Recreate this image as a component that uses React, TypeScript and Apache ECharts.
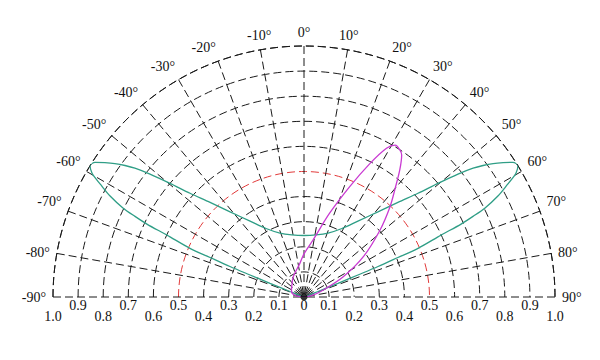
import React, { useEffect, useRef } from "react";
import * as echarts from "echarts";

// Angular ticks (degrees) and radial ticks (relative intensity)
const angleTicks = [-90, -80, -70, -60, -50, -40, -30, -20, -10, 0, 10, 20, 30, 40, 50, 60, 70, 80, 90];
const radiusTicks = [0, 0.1, 0.2, 0.3, 0.4, 0.5, 0.6, 0.7, 0.8, 0.9, 1.0];
const referenceCircle = 0.5;

// Teal batwing curve: angle (deg) and relative intensity
const tealAngles = [
  -68.6, -68.5, -68.1, -67.8, -67.6, -67.2, -66.9, -65.7, -65.1, -64.5, -63.8, -62.5, -61.0, -60.4, -59.7, -58.5,
  -57.2, -56.0, -54.8, -53.7, -52.7, -51.4, -49.7, -47.7, -44.8, -41.0, -35.4, -29.0, -20.6, -11.0,
  0,
  11.0, 20.6, 29.0, 35.4, 41.0, 44.8, 47.7, 49.7, 51.4, 52.7, 53.7, 54.8, 56.0, 57.2,
  58.5, 59.7, 60.4, 61.0, 62.5, 63.8, 64.5, 65.1, 65.7, 66.9, 67.2, 67.6, 67.8, 68.1, 68.5, 68.6,
];
const tealValues = [
  0, 0.06, 0.146, 0.232, 0.319, 0.406, 0.494, 0.599, 0.69, 0.746, 0.804, 0.871, 0.929, 0.953, 0.978, 1.0,
  0.99, 0.957, 0.922, 0.885, 0.847, 0.785, 0.7, 0.614, 0.531, 0.449, 0.371, 0.312, 0.272, 0.252,
  0.245,
  0.252, 0.272, 0.312, 0.371, 0.449, 0.531, 0.614, 0.7, 0.785, 0.847, 0.885, 0.922, 0.957, 0.99,
  1.0, 0.978, 0.953, 0.929, 0.871, 0.804, 0.746, 0.69, 0.599, 0.494, 0.406, 0.319, 0.232, 0.146, 0.06, 0,
];

// Magenta tilted beam
const magentaAngles = [-90, -80, -65, -50, -28, -7, 0, 9, 17, 22.5, 26.3, 29, 31, 33, 34.5, 37, 40, 43.6, 48.6, 55.8, 62.7, 70, 80, 90];
const magentaValues = [0, 0.035, 0.055, 0.064, 0.091, 0.135, 0.172, 0.23, 0.349, 0.476, 0.594, 0.678, 0.706, 0.7, 0.687, 0.634, 0.565, 0.497, 0.404, 0.286, 0.176, 0.082, 0.03, 0];

const FONT = "Liberation Serif";
const GRID = "#1a1a1a";
const DASH = [8, 4];

function tickIndex(v: number): number {
  const a = Math.abs(v);
  let idx = 0;
  radiusTicks.forEach((c, i) => {
    if (Math.abs(c - a) < Math.abs(radiusTicks[idx] - a)) idx = i;
  });
  return idx;
}
function radialLabel(v: number): string {
  const t = radiusTicks[tickIndex(v)];
  return t === 0 ? "0" : t.toFixed(1);
}

export default function App() {
  const ref = useRef<HTMLDivElement>(null);
  useEffect(() => {
    const chart = echarts.init(ref.current!, null, { renderer: "svg" });
    const splitColors = radiusTicks.map((v) => (v === referenceCircle ? "#e23a3a" : GRID));
    const labelAxis = (margin: number, keep: (i: number) => boolean) => ({
      type: "value",
      min: -1,
      max: 1,
      interval: 0.1,
      position: "bottom",
      axisLine: { show: false },
      axisTick: { show: false },
      splitLine: { show: false },
      axisLabel: {
        margin,
        fontFamily: FONT,
        fontSize: 14,
        color: "#111",
        formatter: (v: number) => (keep(tickIndex(v)) ? radialLabel(v) : ""),
      },
    });
    chart.setOption({
      animation: false,
      backgroundColor: "#ffffff",
      polar: { center: [304, 297], radius: 251 },
      angleAxis: {
        type: "value",
        min: angleTicks[0],
        max: angleTicks[angleTicks.length - 1],
        interval: angleTicks[1] - angleTicks[0],
        startAngle: 180,
        endAngle: 0,
        clockwise: true,
        axisLine: { show: true, lineStyle: { type: DASH, color: GRID, width: 1 } },
        axisTick: { show: false },
        axisLabel: {
          formatter: (v: number) => v + "°",
          fontFamily: FONT,
          fontSize: 14,
          color: "#111",
          margin: 7,
        },
        splitLine: { show: true, lineStyle: { type: DASH, color: GRID, width: 1 } },
      },
      radiusAxis: {
        type: "value",
        min: radiusTicks[0],
        max: radiusTicks[radiusTicks.length - 1],
        interval: 0.1,
        axisLine: { show: false },
        axisTick: { show: false },
        axisLabel: { show: false },
        splitLine: { show: true, lineStyle: { type: DASH, color: splitColors, width: 1 } },
      },
      grid: { left: 53, width: 502, top: 46, height: 251 },
      xAxis: [
        labelAxis(1, (i) => i % 2 === 1 || i === 0),
        labelAxis(12, (i) => i % 2 === 0 && i !== 0),
      ],
      yAxis: { type: "value", show: false, min: 0, max: 1 },
      series: [
        {
          type: "line",
          coordinateSystem: "polar",
          data: tealValues.map((r, i) => [r, tealAngles[i]]),
          showSymbol: false,
          smooth: 0.3,
          lineStyle: { color: "#2f9e86", width: 1.3 },
          z: 5,
        },
        {
          type: "line",
          coordinateSystem: "polar",
          data: magentaValues.map((r, i) => [r, magentaAngles[i]]),
          showSymbol: false,
          smooth: 0.3,
          lineStyle: { color: "#c93ad2", width: 1.3 },
          z: 6,
        },
        {
          type: "scatter",
          coordinateSystem: "polar",
          data: [[0, 0]],
          symbolSize: 7,
          itemStyle: { color: "#000" },
          z: 7,
        },
      ],
    });
    return () => chart.dispose();
  }, []);
  return <div ref={ref} style={{ position: "fixed", left: 0, top: 0, width: 600, height: 360 }} />;
}
